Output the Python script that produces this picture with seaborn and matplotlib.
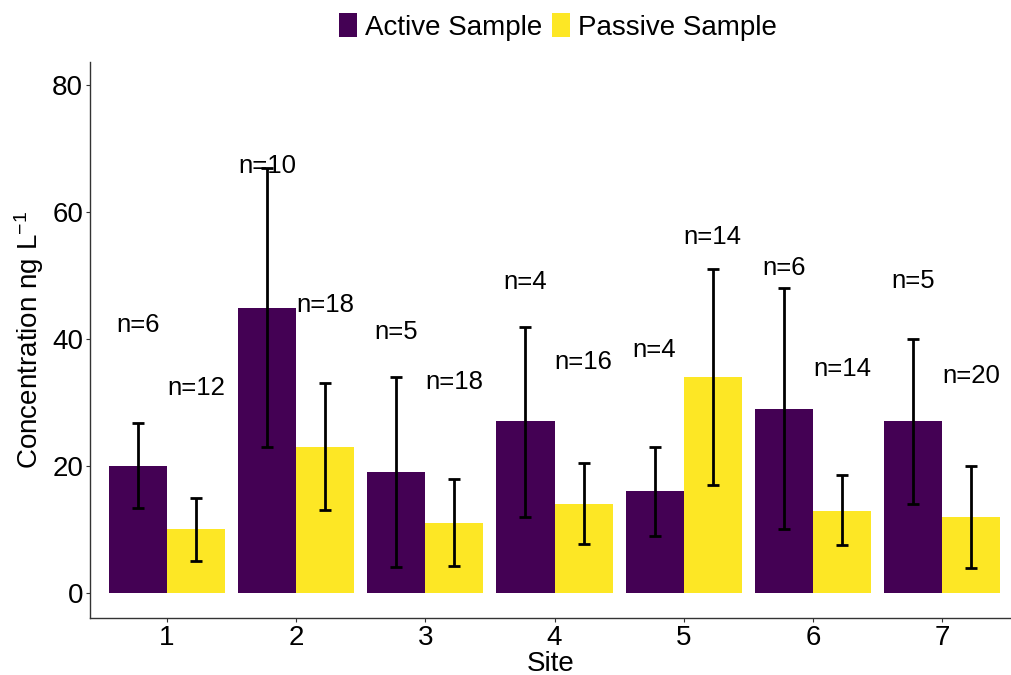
import matplotlib
matplotlib.use("Agg")
import matplotlib.pyplot as plt
import seaborn as sns
import pandas as pd
import numpy as np

sites = ["1", "2", "3", "4", "5", "6", "7"]
sample_types = ["Active Sample", "Passive Sample"]

active_mean = [20, 44.9, 19, 27, 16, 29, 27]
active_low = [13.4, 23, 4.1, 12, 9, 10, 14]
active_high = [26.8, 66.9, 34, 41.9, 23, 48, 40]
active_n = [6, 10, 5, 4, 4, 6, 5]
active_label_y = [42.2, 67.2, 41.1, 49, 38.3, 51.2, 49.1]

passive_mean = [10.1, 23, 11, 14, 34, 12.9, 12]
passive_low = [5, 13, 4.2, 7.7, 17, 7.6, 3.9]
passive_high = [15, 33, 17.9, 20.5, 51, 18.6, 20]
passive_n = [12, 18, 18, 16, 14, 14, 20]
passive_label_y = [32.3, 45.4, 33.2, 36.4, 56, 35.3, 34.2]

colors = ["#440154", "#FDE725"]

df = pd.DataFrame({
    "Site": sites * 2,
    "Type": [sample_types[0]] * 7 + [sample_types[1]] * 7,
    "mean": active_mean + passive_mean,
    "low": active_low + passive_low,
    "high": active_high + passive_high,
    "n": active_n + passive_n,
    "label_y": active_label_y + passive_label_y,
})

sns.set_style("white")
plt.rcParams["font.family"] = ["Liberation Sans", "DejaVu Sans"]
plt.rcParams["mathtext.fontset"] = "custom"
plt.rcParams["mathtext.rm"] = "Liberation Sans"
plt.rcParams["mathtext.it"] = "Liberation Sans:italic"
plt.rcParams["text.color"] = "black"
plt.rcParams["axes.labelcolor"] = "black"
plt.rcParams["xtick.color"] = "black"
plt.rcParams["ytick.color"] = "black"

fig = plt.figure(figsize=(10.11, 6.75), dpi=100)
ax = fig.add_axes([90 / 1011, 1 - 618 / 675, 1 - 90 / 1011, (618 - 62) / 675])

sns.barplot(data=df, x="Site", y="mean", hue="Type", order=sites,
            hue_order=sample_types, palette=colors, errorbar=None,
            width=0.9, saturation=1, linewidth=0, ax=ax, legend=True)

for container, t in zip(ax.containers, sample_types):
    sub = df[df["Type"] == t].set_index("Site").loc[sites]
    xs = np.array([b.get_x() + b.get_width() / 2 for b in container])
    m = sub["mean"].values
    yerr = np.vstack([m - sub["low"].values, sub["high"].values - m])
    ax.errorbar(xs, m, yerr=yerr, fmt="none", ecolor="black",
                elinewidth=2.0, capsize=4.5, capthick=2.0, zorder=5)
    for x, ly, n in zip(xs, sub["label_y"].values, sub["n"].values):
        ax.text(x, ly, f"n={n}", ha="center", va="center", fontsize=18.5,
                color="black", zorder=6)

ax.set_xlim(-0.596, 6.534)
ax.set_ylim(-3.94, 83.6)
ax.set_yticks([0, 20, 40, 60, 80])
ax.set_xlabel("Site", fontsize=20, labelpad=0)
ax.set_ylabel(r"Concentration ng L$^{-1}$", fontsize=20, labelpad=4)
ax.tick_params(axis="both", labelsize=20, length=3, width=0.8,
               color="#333333", pad=2, left=True, bottom=True)

for s in ["top", "right"]:
    ax.spines[s].set_visible(False)
for s in ["left", "bottom"]:
    ax.spines[s].set_color("#333333")
    ax.spines[s].set_linewidth(1.0)

handles, labels = ax.get_legend_handles_labels()
ax.get_legend().remove()
fig.legend(handles, labels, loc="center", bbox_to_anchor=(558 / 1011, 1 - 27 / 675),
           ncol=2, frameon=False, fontsize=20, handlelength=0.65,
           handleheight=0.9, handletextpad=0.3, columnspacing=0.35,
           borderaxespad=0)

fig.savefig("out.png", dpi=100)
